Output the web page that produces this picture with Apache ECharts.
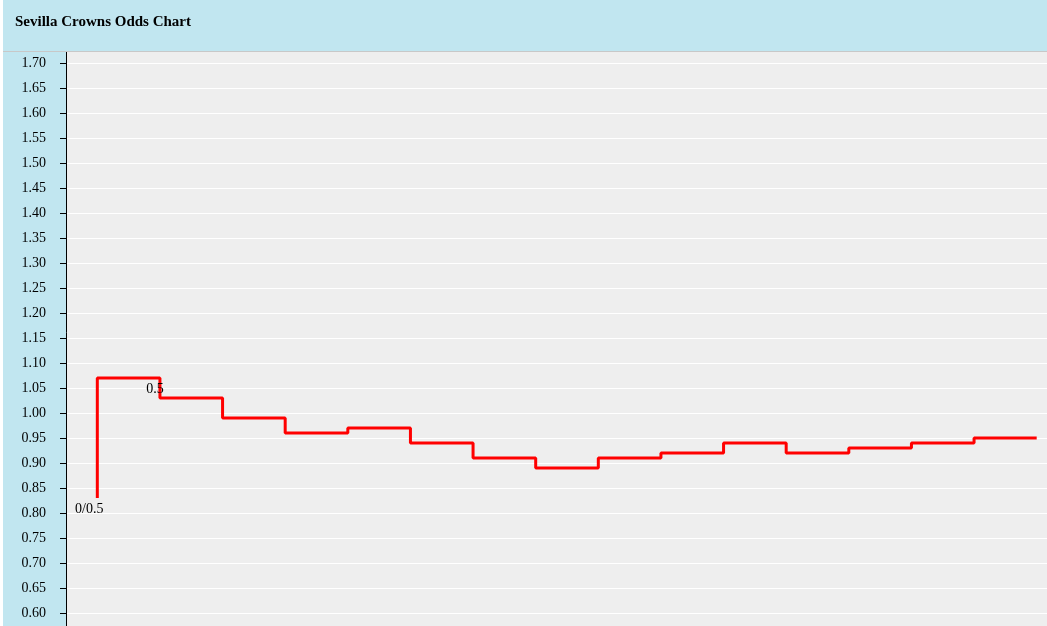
<!DOCTYPE html>
<html>
<head>
<meta charset="utf-8">
<style>
html,body{margin:0;padding:0;background:#ffffff;}
#chart{width:1047px;height:626px;}
</style>
<script src="https://cdn.jsdelivr.net/npm/echarts@6/dist/echarts.min.js"></script>
</head>
<body>
<div id="chart"></div>
<script>
var titleText = 'Sevilla Crowns Odds Chart';
var steps = ['1','2','3','4','5','6','7','8','9','10','11','12','13','14','15','16'];
var odds = [0.83, 1.07, 1.03, 0.99, 0.96, 0.97, 0.94, 0.91, 0.89, 0.91, 0.92, 0.94, 0.92, 0.93, 0.94, 0.95];
var handicapLabels = ['0/0.5', '0.5', '', '', '', '', '', '', '', '', '', '', '', '', '', ''];

var FONT = '"Liberation Serif", "DejaVu Serif", serif';
var labelOffsets = [[-8, 0], [-5, 0]];

var seriesData = odds.map(function (v, i) {
  var item = { value: v };
  if (handicapLabels[i]) {
    item.label = {
      show: true,
      offset: labelOffsets[i] || [0, 0]
    };
  }
  return item;
});

var chart = echarts.init(document.getElementById('chart'), null, { renderer: 'canvas' });
chart.setOption({
  animation: false,
  backgroundColor: '#c1e6f0',
  grid: {
    left: 66,
    top: 38,
    width: 1002,
    height: 600,
    outerBoundsMode: 'none',
    containLabel: false,
    show: true,
    backgroundColor: '#eeeeee',
    borderWidth: 0
  },
  xAxis: {
    type: 'category',
    data: steps,
    boundaryGap: true,
    axisLine: { show: false },
    axisTick: { show: false },
    axisLabel: { show: false },
    splitLine: { show: false }
  },
  yAxis: {
    type: 'value',
    min: 0.55,
    max: 1.75,
    interval: 0.05,
    axisLine: { show: true, lineStyle: { color: '#000', width: 1 } },
    axisTick: { show: true, length: 6, lineStyle: { color: '#000', width: 1 } },
    axisLabel: {
      color: '#000',
      fontFamily: FONT,
      fontSize: 14,
      margin: 20,
      padding: [0, 0, 9, 0],
      formatter: function (v) { return v.toFixed(2); }
    },
    splitLine: { show: true, lineStyle: { color: '#ffffff', width: 1 } }
  },
  series: [{
    type: 'line',
    step: 'start',
    data: seriesData,
    showSymbol: true,
    showAllSymbol: true,
    symbol: 'circle',
    symbolSize: 1,
    label: {
      show: false,
      position: 'bottom',
      distance: 4,
      color: '#000',
      fontFamily: FONT,
      fontSize: 14,
      formatter: function (p) { return handicapLabels[p.dataIndex]; }
    },
    lineStyle: { color: '#ff0000', width: 3 },
    itemStyle: { color: 'rgba(0,0,0,0)' },
    emphasis: { disabled: true },
    z: 3
  }],
  graphic: [
    { type: 'rect', z: 100, shape: { x: 0, y: 0, width: 1047, height: 51 }, style: { fill: '#c1e6f0' } },
    { type: 'rect', z: 101, shape: { x: 0, y: 51, width: 1047, height: 1 }, style: { fill: '#c8c8c8' } },
    { type: 'rect', z: 102, shape: { x: 0, y: 0, width: 3, height: 626 }, style: { fill: '#ffffff' } },
    { type: 'text', z: 103, x: 15, y: 22, style: { text: titleText, fill: '#000', font: 'bold 15px ' + FONT, textVerticalAlign: 'middle' } }
  ]
});
</script>
</body>
</html>
